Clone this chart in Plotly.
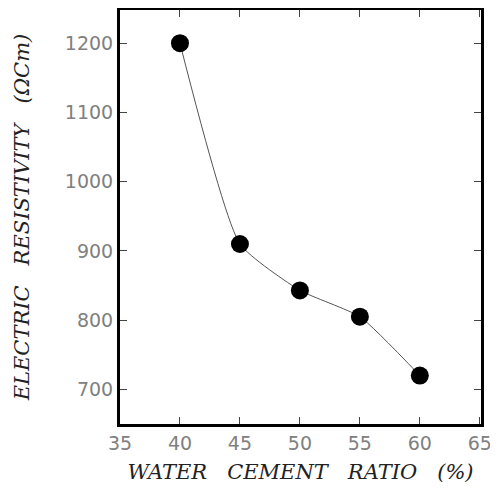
import plotly.graph_objects as go

wc_ratio = [40, 45, 50, 55, 60]
resistivity = [1200, 910, 843, 805, 720]
x_ticks = [35, 40, 45, 50, 55, 60, 65]
y_ticks = [700, 800, 900, 1000, 1100, 1200]

fig = go.Figure()
fig.add_trace(go.Scatter(
    x=wc_ratio, y=resistivity, mode="lines+markers",
    line=dict(color="#555555", width=1, shape="spline", smoothing=0.5),
    marker=dict(color="black", size=18),
    showlegend=False,
))

axis_common = dict(
    showline=True, linecolor="black", linewidth=3, mirror="ticks",
    ticks="inside", ticklen=7, tickcolor="#444444", tickwidth=1,
    showgrid=False, zeroline=False,
    tickfont=dict(family="DejaVu Sans", size=19, color="#808080"),
)

title_font = dict(family="DejaVu Serif", size=21, color="#222222", style="italic")

fig.update_layout(
    width=490, height=489,
    margin=dict(l=112, r=17, t=2, b=73, autoexpand=False),
    plot_bgcolor="white", paper_bgcolor="white",
    xaxis=dict(range=[35, 65.1], tickvals=x_ticks,
               title=dict(text="  WATER   CEMENT   RATIO   (%)", standoff=12, font=title_font),
               **axis_common),
    yaxis=dict(range=[650, 1248], tickvals=y_ticks,
               title=dict(text="ELECTRIC   RESISTIVITY   (ΩC<i>m</i>)", standoff=30, font=title_font),
               **axis_common),
)

fig.write_html("out.html")
